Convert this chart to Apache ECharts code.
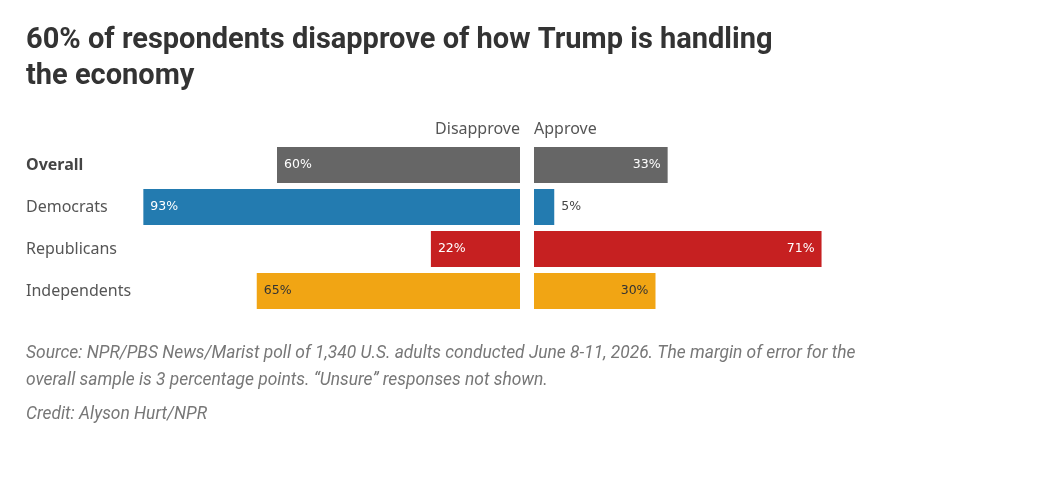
<!DOCTYPE html>
<html>
<head>
<meta charset="utf-8">
<script src="https://cdn.jsdelivr.net/npm/echarts@6/dist/echarts.min.js"></script>
<style>
  html, body { margin: 0; padding: 0; background: #fff; }
  #chart { width: 1060px; height: 500px; }
</style>
</head>
<body>
<div id="chart"></div>
<script>
var categories = ['Overall', 'Democrats', 'Republicans', 'Independents']
var disapprove = [60, 93, 22, 65]
var approve = [33, 5, 71, 30]

var barColors = ['#666666', '#237bb0', '#c62021', '#f1a514']
var labelColors = ['#ffffff', '#ffffff', '#ffffff', '#333333']

var chart = echarts.init(document.getElementById('chart'))

function barData(values, side) {
  return values.map(function(v, i) {
    var small = v < 10
    return {
      value: v,
      itemStyle: { color: barColors[i] },
      label: {
        position: small ? 'right' : (side === 'left' ? 'insideLeft' : 'insideRight'),
        color: small ? '#444444' : labelColors[i]
      }
    }
  })
}

var labelFont = { fontFamily: 'DejaVu Sans', fontSize: 12.5, distance: 7 }

chart.setOption({
  animation: false,
  title: [
    {
      text: '60% of respondents disapprove of how Trump is handling\nthe economy',
      left: 26,
      top: 23,
      padding: 0,
      textStyle: { fontFamily: 'Roboto', fontWeight: 'bold', fontSize: 29, lineHeight: 36, color: '#333333' }
    },
    {
      text: 'Source: NPR/PBS News/Marist poll of 1,340 U.S. adults conducted June 8-11, 2026. The margin of error for the\noverall sample is 3 percentage points. \u201cUnsure\u201d responses not shown.',
      left: 26,
      top: 340,
      padding: 0,
      textStyle: { fontFamily: 'Roboto', fontStyle: 'italic', fontWeight: 'normal', fontSize: 17.4, lineHeight: 27, color: '#777777' }
    },
    {
      text: 'Credit: Alyson Hurt/NPR',
      left: 26,
      top: 406,
      padding: 0,
      textStyle: { fontFamily: 'Roboto', fontStyle: 'italic', fontWeight: 'normal', fontSize: 17.4, color: '#777777' }
    }
  ],
  graphic: [
    {
      type: 'text', right: 1060 - 520, top: 121,
      style: { text: 'Disapprove', fontFamily: 'Noto Sans', fontSize: 16, fill: '#555555' }
    },
    {
      type: 'text', left: 534, top: 121,
      style: { text: 'Approve', fontFamily: 'Noto Sans', fontSize: 16, fill: '#555555' }
    }
  ],
  grid: [
    { left: 115, width: 405, top: 144, height: 168 },
    { left: 534, width: 405, top: 144, height: 168 }
  ],
  xAxis: [
    { gridIndex: 0, type: 'value', min: 0, max: 100, inverse: true, show: false },
    { gridIndex: 1, type: 'value', min: 0, max: 100, show: false }
  ],
  yAxis: [
    {
      gridIndex: 0, type: 'category', data: categories, inverse: true, position: 'left',
      axisLine: { show: false, onZero: false }, axisTick: { show: false },
      axisLabel: {
        align: 'left', margin: 89, fontFamily: 'Noto Sans', fontSize: 16, color: '#555555',
        formatter: function(v, i) { return i === 0 ? '{b|' + v + '}' : v },
        rich: { b: { fontFamily: 'Noto Sans', fontSize: 16, fontWeight: 'bold', color: '#444444' } }
      }
    },
    {
      gridIndex: 1, type: 'category', data: categories, inverse: true,
      axisLine: { show: false, onZero: false }, axisTick: { show: false }, axisLabel: { show: false }
    }
  ],
  series: [
    {
      name: 'Disapprove', type: 'bar', xAxisIndex: 0, yAxisIndex: 0, barWidth: 36,
      label: Object.assign({ show: true, formatter: '{c}%' }, labelFont),
      data: barData(disapprove, 'left')
    },
    {
      name: 'Approve', type: 'bar', xAxisIndex: 1, yAxisIndex: 1, barWidth: 36,
      label: Object.assign({ show: true, formatter: '{c}%' }, labelFont),
      data: barData(approve, 'right')
    }
  ]
})
</script>
</body>
</html>
